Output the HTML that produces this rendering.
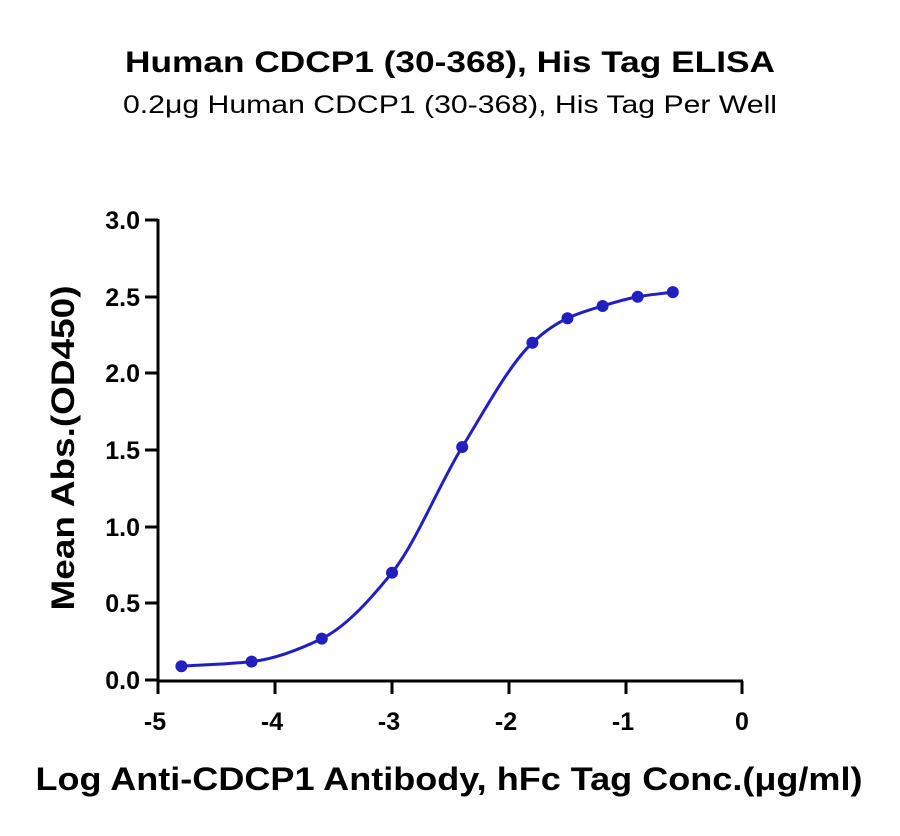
<!DOCTYPE html>
<html><head><style>body{margin:0;background:#fff}</style></head><body>
<svg width="900" height="831" xmlns="http://www.w3.org/2000/svg" font-family="'Liberation Sans', 'DejaVu Sans', sans-serif">
<text x="450" y="72" text-anchor="middle" font-size="30" font-weight="bold" textLength="650" lengthAdjust="spacingAndGlyphs">Human CDCP1 (30-368), His Tag ELISA</text>
<text x="450" y="113" text-anchor="middle" font-size="25" textLength="654" lengthAdjust="spacingAndGlyphs">0.2μg Human CDCP1 (30-368), His Tag Per Well</text>
<g stroke="#000" stroke-width="3" fill="none">
<line x1="158" y1="219" x2="158" y2="681"/>
<line x1="156.5" y1="681" x2="743" y2="681"/>
<line x1="145" y1="220" x2="158" y2="220"/>
<line x1="145" y1="297" x2="158" y2="297"/>
<line x1="145" y1="373" x2="158" y2="373"/>
<line x1="145" y1="450" x2="158" y2="450"/>
<line x1="145" y1="527" x2="158" y2="527"/>
<line x1="145" y1="603" x2="158" y2="603"/>
<line x1="145" y1="680" x2="158" y2="680"/>
<line x1="158" y1="681" x2="158" y2="694"/>
<line x1="275" y1="681" x2="275" y2="694"/>
<line x1="392" y1="681" x2="392" y2="694"/>
<line x1="509" y1="681" x2="509" y2="694"/>
<line x1="626" y1="681" x2="626" y2="694"/>
<line x1="742" y1="681" x2="742" y2="694"/>
</g>
<g font-size="25" font-weight="bold" text-anchor="end">
<text x="140" y="229">3.0</text><text x="140" y="306">2.5</text><text x="140" y="382">2.0</text>
<text x="140" y="459">1.5</text><text x="140" y="536">1.0</text><text x="140" y="612">0.5</text><text x="140" y="689">0.0</text>
</g>
<g font-size="25" font-weight="bold" text-anchor="middle">
<text x="155" y="730">-5</text><text x="272" y="730">-4</text><text x="389" y="730">-3</text>
<text x="506" y="730">-2</text><text x="623" y="730">-1</text><text x="742" y="730">0</text>
</g>
<text x="449" y="790" text-anchor="middle" font-size="32" font-weight="bold" textLength="827" lengthAdjust="spacingAndGlyphs">Log Anti-CDCP1 Antibody, hFc  Tag Conc.(μg/ml)</text>
<text transform="translate(74,448) rotate(-90)" text-anchor="middle" font-size="32" font-weight="bold" textLength="325" lengthAdjust="spacingAndGlyphs">Mean Abs.(OD450)</text>
<path id="curve" fill="none" stroke="#2020c0" stroke-width="3"/>
<g id="pts" fill="#2020c0"></g>
</svg>
<script>
var X=function(v){return 158+117*(v+5)},Y=function(v){return 680-153.3*v};
var pts=[[-4.8,.09],[-4.2,.12],[-3.6,.27],[-3,.70],[-2.4,1.52],[-1.8,2.2],[-1.5,2.36],[-1.2,2.44],[-0.9,2.5],[-0.6,2.53]];
var P=pts.map(function(p){return [X(p[0]),Y(p[1])]});
var n=P.length,dl=[],m=[];
for(var i=0;i<n-1;i++)dl.push((P[i+1][1]-P[i][1])/(P[i+1][0]-P[i][0]));
m[0]=dl[0];m[n-1]=dl[n-2];
for(var i=1;i<n-1;i++){m[i]=dl[i-1]*dl[i]<=0?0:2/(1/dl[i-1]+1/dl[i]);}
var d="M"+P[0][0]+","+P[0][1];
for(var i=0;i<n-1;i++){var h=(P[i+1][0]-P[i][0])/3;
d+="C"+(P[i][0]+h)+","+(P[i][1]+m[i]*h)+" "+(P[i+1][0]-h)+","+(P[i+1][1]-m[i+1]*h)+" "+P[i+1][0]+","+P[i+1][1];}
document.getElementById("curve").setAttribute("d",d);
var s="";P.forEach(function(p){s+='<circle cx="'+p[0]+'" cy="'+p[1]+'" r="6"/>';});
document.getElementById("pts").innerHTML=s;
</script>
</body></html>
